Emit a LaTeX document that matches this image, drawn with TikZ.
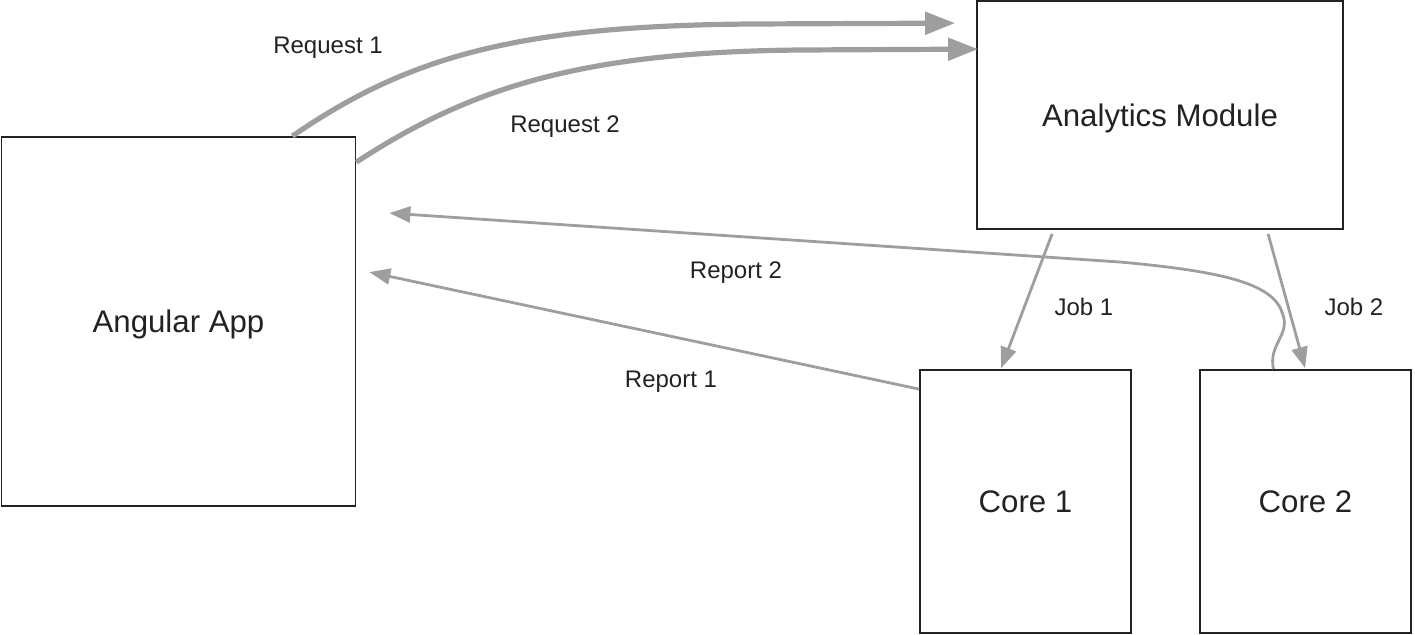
\documentclass[tikz,border=0pt]{standalone}
\usepackage{fontspec}
\setmainfont{Liberation Sans}
\usetikzlibrary{arrows.meta,calc,positioning}
\definecolor{flowgray}{HTML}{9E9E9E}
\definecolor{inkgray}{HTML}{222222}

\begin{document}
\begin{tikzpicture}[x=0.5pt,y=-0.5pt,
  box/.style={draw=inkgray, line width=0.9pt, rectangle, inner sep=0pt, text depth=0pt, font=\fontsize{15.6}{18}\selectfont, text=inkgray},
  flow/.style={draw=flowgray, line width=1.4pt, -{Triangle[length=10.5pt,width=8pt]}},
  bigflow/.style={draw=flowgray, line width=2.6pt, -{Triangle[length=15pt,width=11pt]}},
  lbl/.style={font=\fontsize{12}{14}\selectfont, text=inkgray}]
\useasboundingbox (0,0) rectangle (1415,634);
% boxes
\node[box, minimum width=177pt, minimum height=184.5pt] (ang) at (178.5,321.5) {Angular App};
\node[box, minimum width=183pt, minimum height=114pt] (ana) at (1160,115) {Analytics Module};
\node[box, minimum width=105.5pt, minimum height=131.5pt] (core1) at (1025.5,501.5) {Core 1};
\node[box, minimum width=105.5pt, minimum height=131.5pt] (core2) at (1305.5,501.5) {Core 2};
% requests
\draw[bigflow] ($(ang.north east)+(-64,0)$) .. controls (410,55) and (520,26) .. (750,24) -- ($(ana.north west)+(-21,23)$);
\draw[bigflow] ($(ang.north east)+(0,26)$) .. controls (470,88) and (580,52) .. (800,50) -- ($(ana.north west)+(2,49)$);
% reports
\draw[flow] ($(core1.north west)+(0,20)$) -- ($(ang.north east)+(13,136)$);
\draw[flow] ($(core2.north)+(-32,0)$) .. controls (1268,345) and (1290,335) .. (1283,315)
  .. controls (1275,285) and (1230,272) .. (1120,262) -- ($(ang.north east)+(33,77)$);
% jobs
\draw[flow] ($(ana.south west)+(76,4)$) -- ($(core1.north west)+(82,-1)$);
\draw[flow] ($(ana.south west)+(292,4)$) -- ($(core2.north west)+(106,-1)$);
% labels
\node[lbl] (lreq1) at (328,48) {Request 1};
\node[lbl] (lreq2) at (565,127) {Request 2};
\node[lbl] (lrep2) at (736,273) {Report 2};
\node[lbl] (lrep1) at (671,382) {Report 1};
\node[lbl] (ljob1) at (1084,307) {Job 1};
\node[lbl] (ljob2) at (1354,307) {Job 2};
\end{tikzpicture}
\end{document}
